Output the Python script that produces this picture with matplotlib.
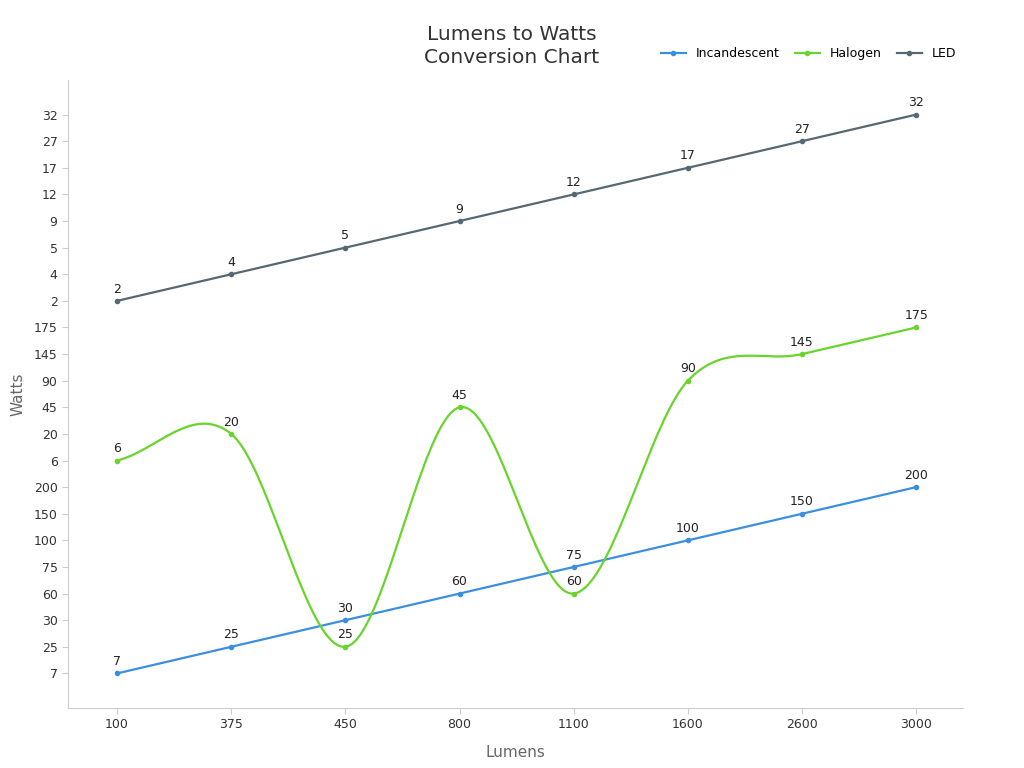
import matplotlib
matplotlib.use("Agg")
import matplotlib.pyplot as plt
import numpy as np
from matplotlib.lines import Line2D

lumens = ["100", "375", "450", "800", "1100", "1600", "2600", "3000"]
incandescent = [7, 25, 30, 60, 75, 100, 150, 200]
halogen = [6, 20, 25, 45, 60, 90, 145, 175]
led = [2, 4, 5, 9, 12, 17, 27, 32]
series = [("Incandescent", incandescent, "#3b8fe0"),
          ("Halogen", halogen, "#68d42c"),
          ("LED", led, "#566873")]

cats = []
for _, vals, _ in series:
    for v in vals:
        if v not in cats:
            cats.append(v)
idx = {v: i for i, v in enumerate(cats)}

def catmull(xs, ys, n=40):
    xs = np.asarray(xs, float); ys = np.asarray(ys, float)
    px = np.concatenate([[2*xs[0]-xs[1]], xs, [2*xs[-1]-xs[-2]]])
    py = np.concatenate([[2*ys[0]-ys[1]], ys, [2*ys[-1]-ys[-2]]])
    ox, oy = [], []
    for i in range(1, len(px)-2):
        t = np.linspace(0, 1, n)
        for P, O in ((px, ox), (py, oy)):
            p0, p1, p2, p3 = P[i-1], P[i], P[i+1], P[i+2]
            O.extend(0.5*((2*p1) + (-p0+p2)*t + (2*p0-5*p1+4*p2-p3)*t**2 + (-p0+3*p1-3*p2+p3)*t**3))
    return ox, oy

fig = plt.figure(figsize=(10.24, 7.68), dpi=100)
ax = fig.add_axes([68/1024, 60/768, 895/1024, 628/768])
x = np.arange(len(lumens))
for name, vals, col in series:
    y = [idx[v] for v in vals]
    if name == "Halogen":
        sx, sy = catmull(x, y)
        ax.plot(sx, sy, color=col, lw=1.6)
        ax.plot(x, y, 'o', color=col, ms=3)
    else:
        ax.plot(x, y, '-o', color=col, lw=1.6, ms=3)
    for xi, yi, v in zip(x, y, vals):
        ax.text(xi, yi + 0.2, str(v), ha='center', va='bottom', fontsize=9, color='#222222')

handles = [Line2D([], [], color=c, marker='o', ms=3, lw=1.6) for _, _, c in series]
ax.legend(handles, [n for n, _, _ in series], loc='upper right', bbox_to_anchor=(1.005, 1.07),
          ncol=3, frameon=False, fontsize=9, handlelength=2, columnspacing=1.2)

ax.set_xticks(x, lumens)
ax.set_yticks(range(len(cats)), [str(c) for c in cats])
ax.set_xlim(-0.43, 7.41)
ax.set_ylim(-1.3, 22.3)
for s in ("top", "right"):
    ax.spines[s].set_visible(False)
for s in ("left", "bottom"):
    ax.spines[s].set_color("#cccccc")
ax.tick_params(colors="#333333", labelsize=9, length=4)
ax.tick_params(axis='both', color="#cccccc")
ax.set_xlabel("Lumens", fontsize=11, color="#666666", labelpad=10)
ax.set_ylabel("Watts", fontsize=11, color="#666666", labelpad=6)
fig.text(0.5, 1 - 46/768, "Lumens to Watts\nConversion Chart", ha='center', va='center',
         fontsize=14.5, color="#333333", linespacing=1.3)
fig.savefig("out.png", dpi=100)
